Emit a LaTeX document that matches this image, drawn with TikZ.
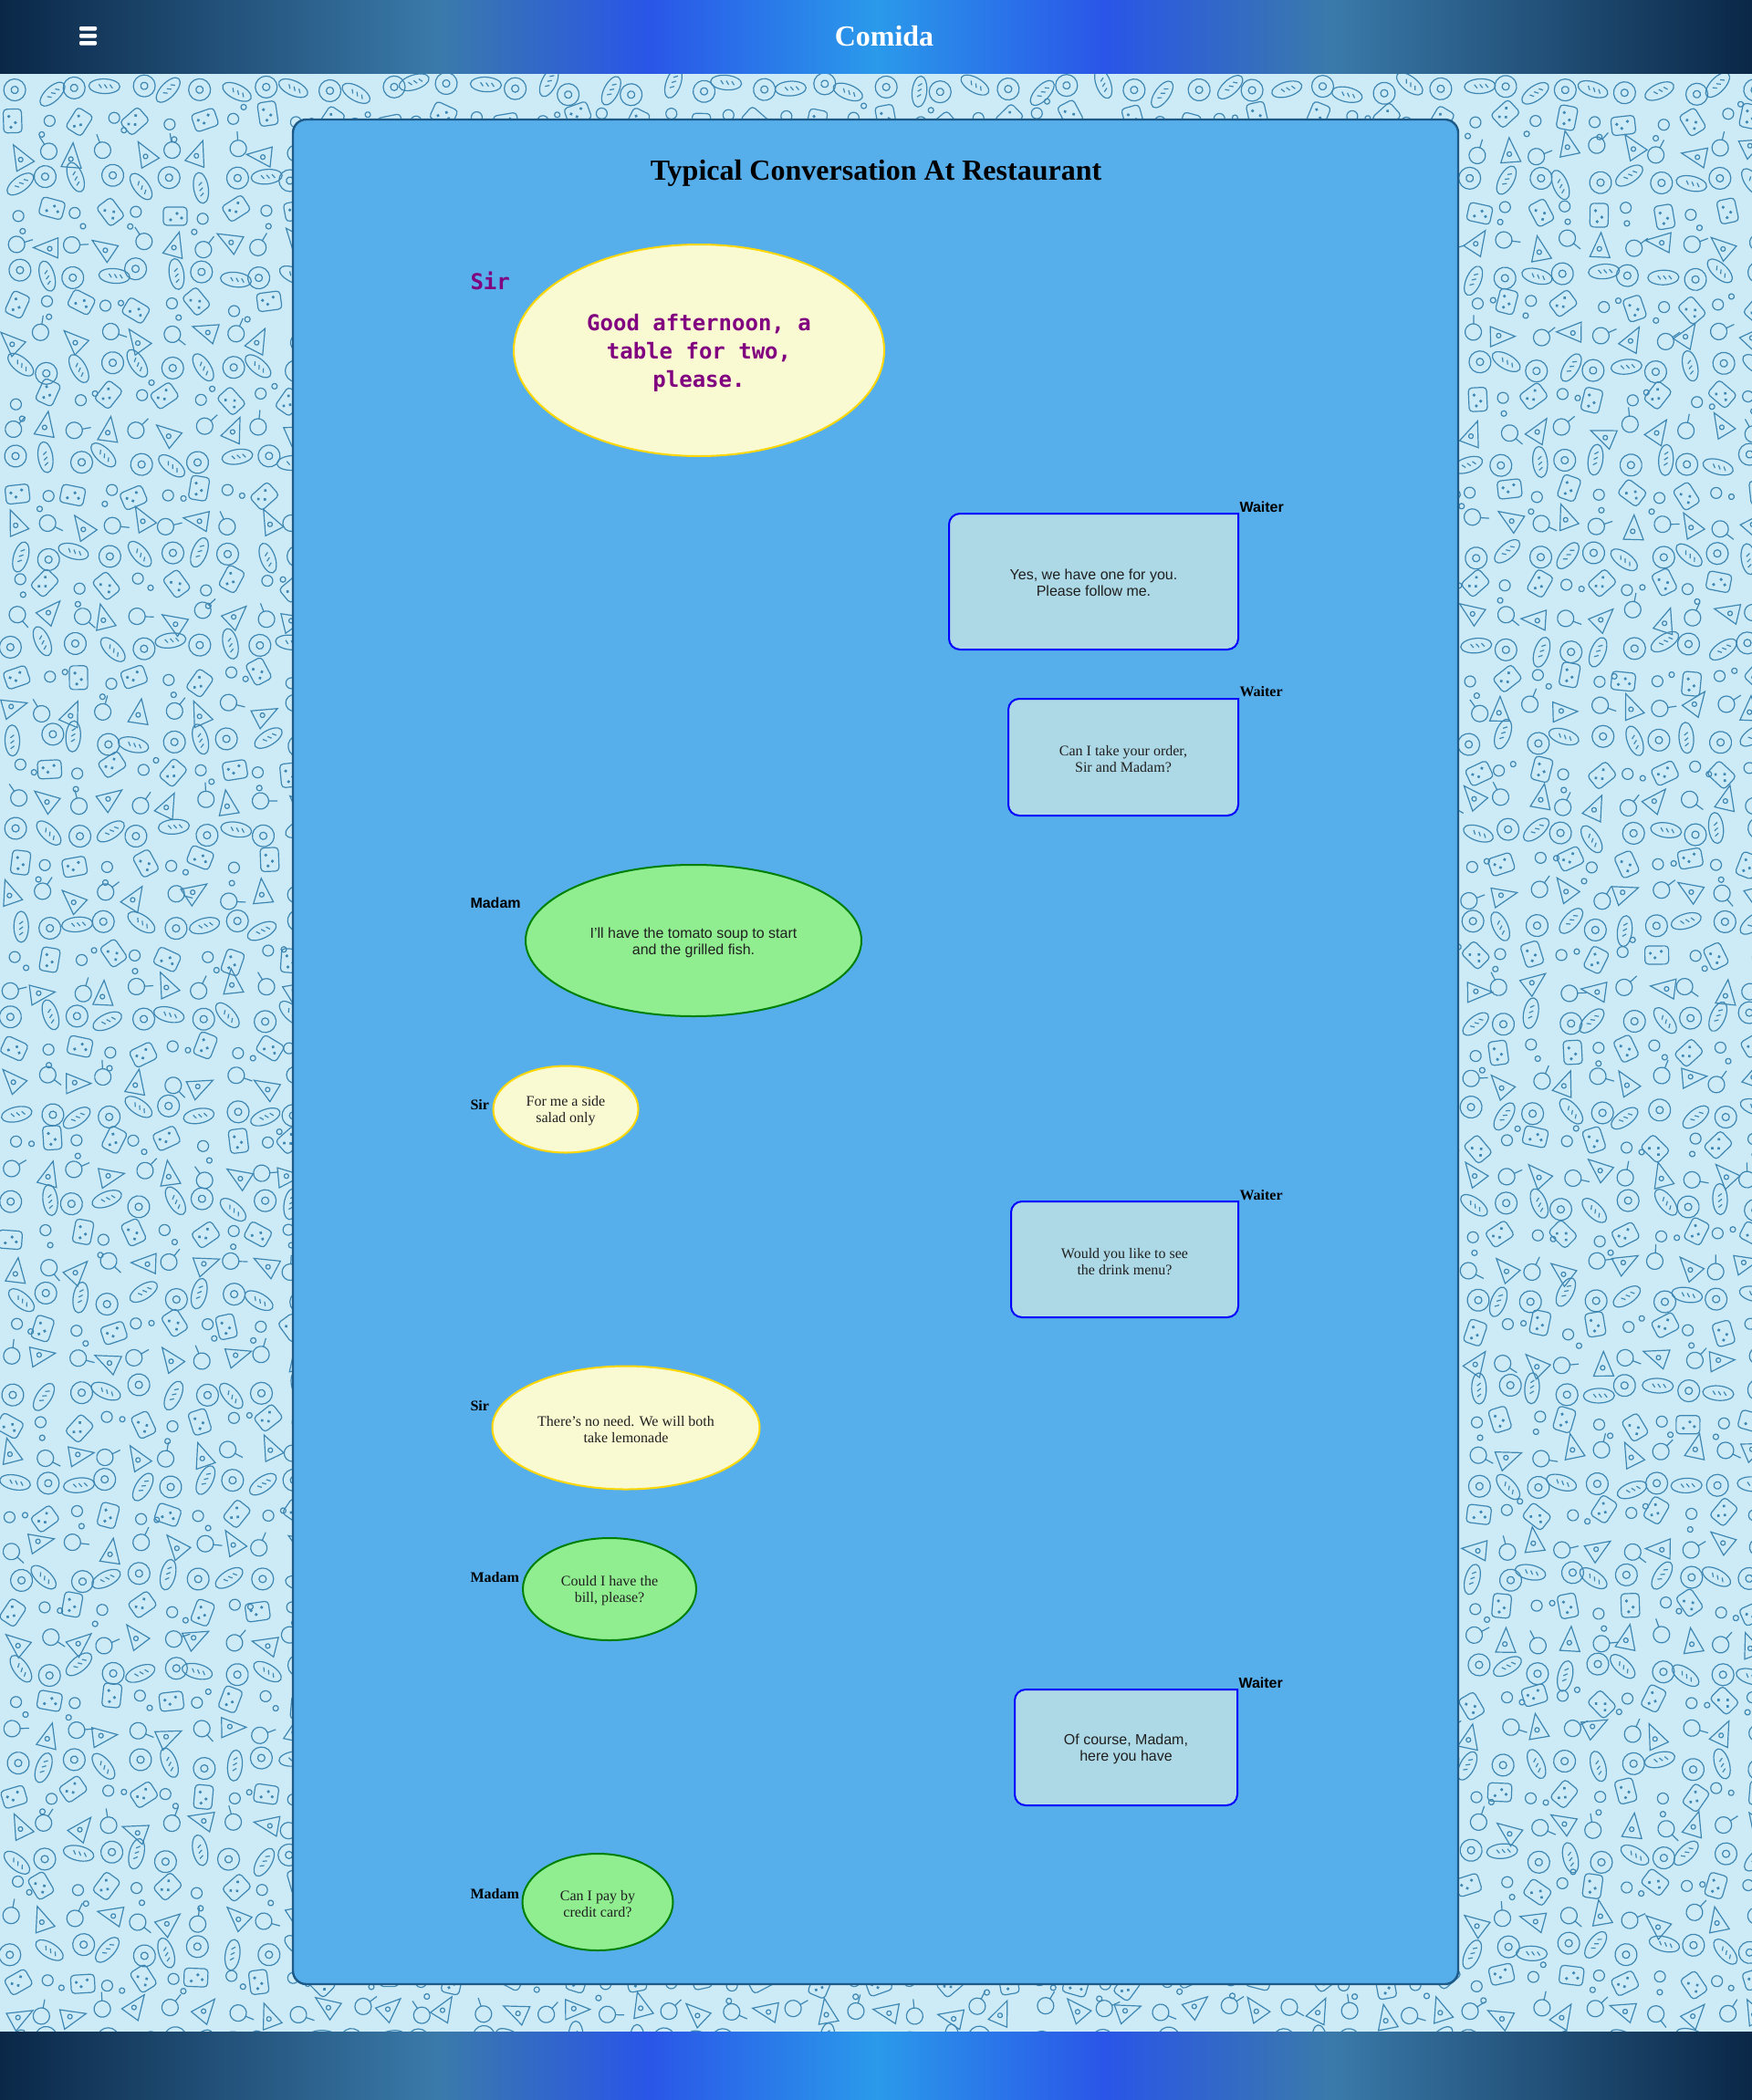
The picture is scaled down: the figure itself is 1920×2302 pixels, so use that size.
\documentclass[tikz,border=0pt]{standalone}
\usepackage{fontspec}
\setmainfont{Liberation Serif}
\setsansfont{Liberation Sans}
\setmonofont{DejaVu Sans Mono}

\definecolor{navyend}{HTML}{0A2747}
\definecolor{steelmid}{HTML}{3A7AAA}
\definecolor{royalmid}{HTML}{2A55E8}
\definecolor{azuremid}{HTML}{2A9AEA}
\definecolor{patternbg}{HTML}{CDEBF6}
\definecolor{doodle}{HTML}{3F87B3}
\definecolor{panelfill}{HTML}{56AEEB}
\definecolor{panelline}{HTML}{1E5A88}
\definecolor{sirfill}{HTML}{FAFAD2}
\definecolor{sirline}{HTML}{FFD700}
\definecolor{madamfill}{HTML}{90EE90}
\definecolor{madamline}{HTML}{008000}
\definecolor{waiterfill}{HTML}{ADD8E6}
\definecolor{waiterline}{HTML}{0000FF}
\definecolor{sirpurple}{HTML}{800080}
\definecolor{talktext}{HTML}{202020}

\pgfdeclarehorizontalshading{barshade}{100bp}{color(0bp)=(navyend); color(25bp)=(navyend); color(37.5bp)=(steelmid); color(43.5bp)=(royalmid); color(50bp)=(azuremid); color(56.5bp)=(royalmid); color(63bp)=(steelmid); color(75bp)=(navyend); color(100bp)=(navyend)}

\tikzset{every picture/.style={line width=0.75pt},
  doodleline/.style={draw=doodle, line width=0.9pt},
  sirbubble/.style={draw=sirline, fill=sirfill, line width=1.5pt},
  madambubble/.style={draw=madamline, fill=madamfill, line width=1.5pt},
  waiterbox/.style={draw=waiterline, fill=waiterfill, line width=1.5pt},
  textsans/.style={font=\sffamily\fontsize{12}{13.5}\selectfont, text=talktext, align=center, inner sep=0.75pt},
  textserif/.style={font=\rmfamily\fontsize{12}{13.5}\selectfont, text=talktext, align=center, inner sep=0.75pt},
  textmono/.style={font=\ttfamily\bfseries\fontsize{18}{23.25}\selectfont, text=sirpurple, align=center, inner sep=0.75pt},
  tagsans/.style={font=\sffamily\bfseries\fontsize{12}{13.5}\selectfont, anchor=west, inner sep=0.75pt},
  tagserif/.style={font=\rmfamily\bfseries\fontsize{12}{13.5}\selectfont, anchor=west, inner sep=0.75pt}
}

\begin{document}
\begin{tikzpicture}[x=0.75pt,y=0.75pt,yscale=-1,xscale=1]
	\useasboundingbox (0,0) rectangle (1920,2302);
	
	%Shape: Rectangle [id:pattern] 
	\fill [patternbg] (0,80) rectangle (1920,2227);
	\pgfmathsetseed{7}
	\begin{scope}
		\clip (0,80) rectangle (1920,2227);
		\foreach \i in {0,...,56}{
			\foreach \j in {0,...,63}{
				\pgfmathsetmacro{\px}{\i*34+17+rand*7}
				\pgfmathsetmacro{\py}{80+\j*34+17+rand*7}
				\pgfmathsetmacro{\rot}{rand*90}
				\pgfmathtruncatemacro{\kind}{mod(\i*3+\j*7,6)}
				\pgfmathtruncatemacro{\hide}{(\i>9)*(\i<46)*(\j>1)*(\j<60)}
				\ifnum\hide=0
				\begin{scope}[shift={(\px,\py)}, rotate=\rot]
					\ifcase\kind
					\draw [doodleline] (0,0) circle [radius=12] (0,0) circle [radius=4];
					\or
					\draw [doodleline, rounded corners=3] (-10,-13) rectangle (10,13);
					\draw [doodleline, fill=doodle] (-4,-5) circle [radius=1] (3,2) circle [radius=1] (-2,7) circle [radius=1];
					\or
					\draw [doodleline] (0,-15) -- (11,12) -- (-11,12) -- cycle;
					\draw [doodleline] (-1,3) circle [radius=2.5];
					\or
					\draw [doodleline] (0,0) ellipse [x radius=17, y radius=8];
					\draw [doodleline] (-6,-2) -- (-3,2) (0,-2) -- (3,2) (6,-2) -- (9,2);
					\or
					\draw [doodleline] (0,0) circle [radius=6];
					\draw [doodleline] (14,10) circle [radius=3];
					\else
					\draw [doodleline] (0,0) circle [radius=9] (7,-5) -- (15,-11);
					\fi
				\end{scope}
				\fi
			}
		}
	\end{scope}
	
	%Shape: Rectangle [id:header] 
	\shade [shading=barshade] (0,0) rectangle (1920,80);
	%Shape: Rectangle [id:footer] 
	\shade [shading=barshade] (0,2227) rectangle (1920,2302);
	%Shape: Menu bars 
	\fill [white, rounded corners=0.8] (87,29) rectangle (106,33.5) (87,37) rectangle (106,41.5) (87,45) rectangle (106,49.5);
	% Text Node
	\node [font=\rmfamily\bfseries\fontsize{24}{28}\selectfont, text=white, inner sep=0.75pt] (brand) at (969,40) {Comida};
	
	%Shape: Rectangle [id:panel] 
	\draw [draw=panelline, fill=panelfill, line width=1.8pt, rounded corners=11] (321,131) rectangle (1598,2175);
	% Text Node
	\node [font=\rmfamily\bfseries\fontsize{24}{28}\selectfont, inner sep=0.75pt] (title) at (960,190) {Typical Conversation At Restaurant};
	
	%Shape: Ellipse [id:sir1] 
	\draw [sirbubble] (766,384) ellipse [x radius=203, y radius=116];
	\node [textmono] (sirsay1) at (766,387) {Good afternoon, a\\table for two,\\please.};
	\node [tagserif, font=\ttfamily\bfseries\fontsize{18}{20}\selectfont, text=sirpurple] (sirtag1) at (514,308) {Sir};
	
	%Shape: Waiter box [id:waiter1] 
	\draw [waiterbox] (1198,563) -- (1357,563) -- (1357,640) [rounded corners=9] -- (1357,712) -- (1040,712) -- (1040,563) -- cycle;
	\node [textsans] (waitersay1) at (1198.5,639) {Yes, we have one for you.\\Please follow me.};
	\node [tagsans] (waitertag1) at (1357,556) {Waiter};
	
	%Shape: Waiter box [id:waiter2] 
	\draw [waiterbox] (1231,766) -- (1357,766) -- (1357,830) [rounded corners=9] -- (1357,894) -- (1105,894) -- (1105,766) -- cycle;
	\node [textserif] (waitersay2) at (1231,832) {Can I take your order,\\Sir and Madam?};
	\node [tagserif] (waitertag2) at (1357,758) {Waiter};
	
	%Shape: Ellipse [id:madam1] 
	\draw [madambubble] (760,1031) ellipse [x radius=184, y radius=83];
	\node [textsans] (madamsay1) at (760,1033) {I’ll have the tomato soup to start\\and the grilled fish.};
	\node [tagsans] (madamtag1) at (514,990) {Madam};
	
	%Shape: Ellipse [id:sir2] 
	\draw [sirbubble] (620,1216) ellipse [x radius=79.5, y radius=47.5];
	\node [textserif] (sirsay2) at (620,1218) {For me a side\\salad only};
	\node [tagserif] (sirtag2) at (514,1211) {Sir};
	
	%Shape: Waiter box [id:waiter3] 
	\draw [waiterbox] (1232,1317) -- (1357,1317) -- (1357,1380) [rounded corners=9] -- (1357,1444) -- (1108,1444) -- (1108,1317) -- cycle;
	\node [textserif] (waitersay3) at (1232.5,1383) {Would you like to see\\the drink menu?};
	\node [tagserif] (waitertag3) at (1357,1310) {Waiter};
	
	%Shape: Ellipse [id:sir3] 
	\draw [sirbubble] (686,1565) ellipse [x radius=146.5, y radius=67.5];
	\node [textserif] (sirsay3) at (686,1567) {There’s no need. We will both\\take lemonade};
	\node [tagserif] (sirtag3) at (514,1541) {Sir};
	
	%Shape: Ellipse [id:madam2] 
	\draw [madambubble] (668,1742) ellipse [x radius=95, y radius=56];
	\node [textserif] (madamsay2) at (668,1744) {Could I have the\\bill, please?};
	\node [tagserif] (madamtag2) at (514,1729) {Madam};
	
	%Shape: Waiter box [id:waiter4] 
	\draw [waiterbox] (1234,1852) -- (1356,1852) -- (1356,1915) [rounded corners=9] -- (1356,1979) -- (1112,1979) -- (1112,1852) -- cycle;
	\node [textsans] (waitersay4) at (1234,1917.5) {Of course, Madam,\\here you have};
	\node [tagsans] (waitertag4) at (1356,1845) {Waiter};
	
	%Shape: Ellipse [id:madam3] 
	\draw [madambubble] (655,2085) ellipse [x radius=82.5, y radius=53];
	\node [textserif] (madamsay3) at (655,2087) {Can I pay by\\credit card?};
	\node [tagserif] (madamtag3) at (514,2076) {Madam};
	
\end{tikzpicture}
\end{document}
